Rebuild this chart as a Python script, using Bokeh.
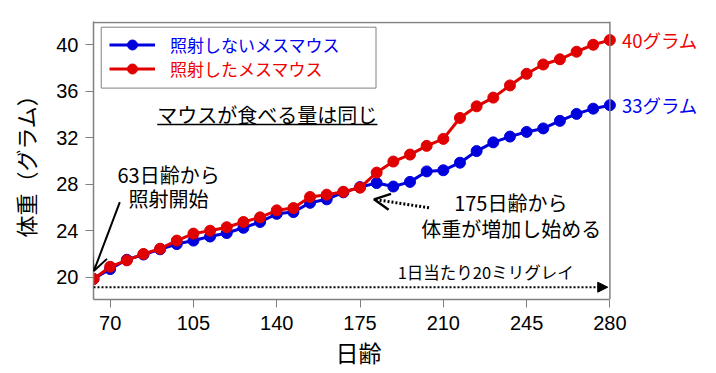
from bokeh.plotting import figure
from bokeh.models import (Range1d, FixedTicker, Legend, LegendItem, Label, Arrow,
                          OpenHead, NormalHead, BoxAnnotation, Span, Title)
from bokeh.embed import file_html
from bokeh.resources import INLINE

# ---------------- data ----------------
days = list(range(63, 281, 7))
unirradiated = [19.85, 20.7, 21.5, 21.95, 22.4, 22.85, 23.15, 23.5, 23.8, 24.25, 24.75,
                25.45, 25.6, 26.4, 26.7, 27.3, 27.75, 28.1, 27.8, 28.2, 29.1, 29.2,
                29.85, 30.85, 31.6, 32.1, 32.5, 32.8, 33.45, 34.05, 34.5, 34.8]
irradiated = [19.85, 20.9, 21.45, 22.0, 22.45, 23.15, 23.75, 24.0, 24.3, 24.75, 25.15,
              25.75, 25.95, 26.9, 27.1, 27.35, 27.7, 29.0, 29.95, 30.55, 31.3, 31.9,
              33.7, 34.7, 35.45, 36.5, 37.5, 38.3, 38.75, 39.4, 40.0, 40.4]
series_names = ["照射しないメスマウス", "照射したメスマウス"]
end_labels = ["33グラム", "40グラム"]
x_ticks = [70, 105, 140, 175, 210, 245, 280]
y_ticks = [20, 24, 28, 32, 36, 40]
x_min, x_max = 63, 280
y_min, y_max = 18.08, 41.92

# ---------------- style ----------------
JP = "Noto Sans CJK JP"
LAT = "Liberation Sans"
BLUE = "#0000DD"
RED = "#E00000"
BLUE_T = "#0000F0"
RED_T = "#F00000"
GRAY = "#808080"

# the frame extends to the right edge so the end labels are not clipped;
# the visible box (63..280) is drawn with axis bounds + edge lines.
p = figure(width=716, height=373, x_range=Range1d(x_min, 324.8), y_range=Range1d(y_min, 42.0),
           output_backend="svg", toolbar_location=None,
           min_border_left=93, min_border_right=0, min_border_top=21, min_border_bottom=74)
p.grid.visible = False
p.outline_line_color = None
p.background_fill_color = "white"
p.border_fill_color = "white"

for ax in (p.xaxis[0], p.yaxis[0]):
    ax.axis_line_color = GRAY
    ax.axis_line_width = 1.5
    ax.major_tick_line_color = GRAY
    ax.major_tick_line_width = 1
    ax.major_tick_in = 0
    ax.major_tick_out = 8
    ax.minor_tick_line_color = None
    ax.major_label_text_font = LAT
    ax.major_label_text_font_size = "20px"
    ax.major_label_text_color = "black"
    ax.axis_label_text_font = JP
    ax.axis_label_text_font_style = "normal"
    ax.axis_label_text_color = "black"

p.xaxis.ticker = FixedTicker(ticks=x_ticks)
p.xaxis.bounds = (x_min, x_max)
p.xaxis.major_label_standoff = 8
p.yaxis.ticker = FixedTicker(ticks=y_ticks)
p.yaxis.major_label_standoff = 7
p.yaxis.axis_label = "体重（グラム）"
p.yaxis.axis_label_text_font_size = "22px"
p.yaxis.axis_label_standoff = 12

p.add_layout(Title(text="日齢", align="left", offset=242, standoff=0,
                   text_font=JP, text_font_size="23px", text_font_style="normal",
                   text_color="black"), "below")

# visible box: right and top edges
p.add_layout(Span(location=x_max, dimension="height", line_color=GRAY, line_width=1.5))
p.segment(x0=[x_min], y0=[y_max], x1=[x_max], y1=[y_max], line_color=GRAY, line_width=1.5)

# ---------------- series ----------------
lb = p.line(days, unirradiated, line_color=BLUE, line_width=3)
sb = p.scatter(days, unirradiated, size=11, fill_color=BLUE, line_color=BLUE)
lr = p.line(days, irradiated, line_color=RED, line_width=3)
sr = p.scatter(days, irradiated, size=11, fill_color=RED, line_color=RED)

# ---------------- legend ----------------
box = BoxAnnotation(left=66.24, right=181.72, bottom=36.27, top=41.51,
                    fill_color="white", fill_alpha=1, line_color=GRAY, line_alpha=1, line_width=1)
p.add_layout(box)

common = dict(padding=0, margin=0, border_line_color=None, background_fill_alpha=0,
              glyph_width=46, glyph_height=25, label_standoff=15,
              label_text_font=JP, label_text_font_size="17px")
leg1 = Legend(items=[LegendItem(label=series_names[0], renderers=[lb, sb])],
              location=(16, 242.3), label_text_color=BLUE_T, **common)
leg2 = Legend(items=[LegendItem(label=series_names[1], renderers=[lr, sr])],
              location=(16, 217.6), label_text_color=RED_T, **common)
p.add_layout(leg1)
p.add_layout(leg2)

# ---------------- end labels ----------------
p.add_layout(Label(x=days[-1], y=unirradiated[-1], x_offset=12, text=end_labels[0],
                   text_baseline="middle", text_color=BLUE_T, text_font=JP, text_font_size="18.5px"))
p.add_layout(Label(x=days[-1], y=irradiated[-1], x_offset=12, text=end_labels[1],
                   text_baseline="middle", text_color=RED_T, text_font=JP, text_font_size="18.5px"))

# ---------------- annotations ----------------
def note(x, y, t, size="20px"):
    p.add_layout(Label(x=x, y=y, text=t, text_align="center", text_baseline="middle",
                       text_color="black", text_font=JP, text_font_size=size))

note(136.05, 34.0, "マウスが食べる量は同じ")
p.segment(x0=[89.79], y0=[33.14], x1=[182.31], y1=[33.14], line_color="black", line_width=1.5)
note(94.54, 28.80, "63日齢から")
note(94.54, 26.73, "照射開始")
note(238.37, 26.39, "175日齢から")
note(238.5, 24.23, "体重が増加し始める")
note(227.8, 20.45, "1日当たり20ミリグレイ", "16.5px")

p.add_layout(Arrow(end=OpenHead(size=16, line_width=2, line_color="black"),
                   x_start=74.06, y_start=26.45, x_end=63.13, y_end=20.53,
                   line_width=2, line_color="black"))
p.add_layout(Arrow(end=OpenHead(size=16, line_width=2.5, line_color="black"),
                   x_start=204.0, y_start=25.97, x_end=180.88, y_end=26.70,
                   line_width=3, line_color="black", line_dash="2 2"))
p.add_layout(Arrow(end=NormalHead(size=10, fill_color="black", line_color="black"),
                   x_start=x_min, y_start=19.14, x_end=279.1, y_end=19.14,
                   line_width=2, line_color="black", line_dash="2 2"))

with open("out.html", "w") as f:
    f.write(file_html(p, INLINE))
